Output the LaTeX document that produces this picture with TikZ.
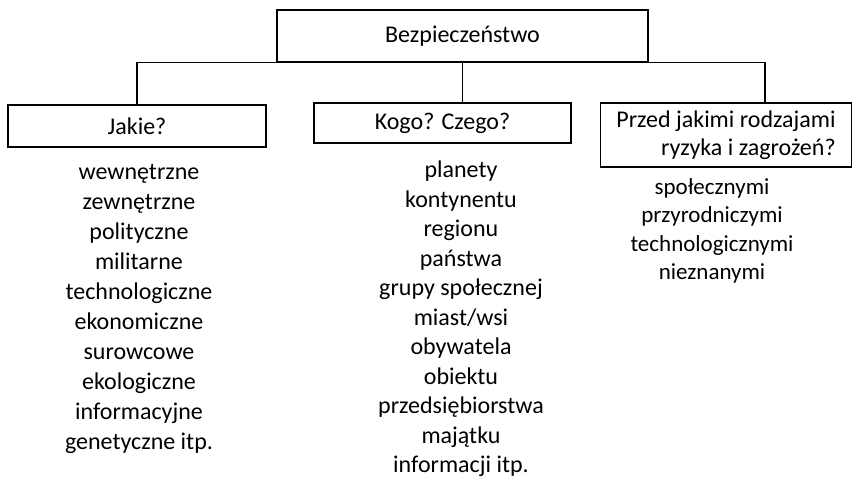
\documentclass[tikz,border=0pt]{standalone}
\usepackage{fontspec}
\setmainfont{Carlito}
\usepackage{tikz}

\begin{document}
\begin{tikzpicture}[x=1pt, y=-1pt,
    box/.style = {draw, line width=1.1pt, inner sep=0pt, font=\fontsize{24}{28}\selectfont},
    list/.style = {align=center, inner sep=0pt, anchor=north, font=\fontsize{24}{30}\selectfont}]
  \useasboundingbox (0,0) rectangle (852,482);
  % headings
  \node[box, minimum width=371pt, minimum height=52pt] (top) at (462.5,36) {Bezpieczeństwo};
  \node[box, minimum width=258pt, minimum height=42pt] (jakie) at (137,126) {Jakie?};
  \node[box, minimum width=257pt, minimum height=40pt] (kogo) at (442.5,123) {Kogo? Czego?};
  \node[box, minimum width=251pt, minimum height=64pt, align=right] (przed) at (726,135)
        {Przed jakimi rodzajami\\ryzyka i zagrożeń?};
  \coordinate (przedtop) at (765,103);
  % connectors
  \draw[line width=1.1pt] (top.south) -| (jakie.north);
  \draw[line width=1.1pt] (top.south) -- (top.south |- kogo.north);
  \draw[line width=1.1pt] (top.south) -| (przedtop);
  % lists
  \node[list] (jakielist) at (139,164) {wewnętrzne\\zewnętrzne\\polityczne\\militarne\\technologiczne\\ekonomiczne\\surowcowe\\ekologiczne\\informacyjne\\genetyczne itp.};
  \node[list, font=\fontsize{24}{29.5}\selectfont] (kogolist) at (461,161) {planety\\kontynentu\\regionu\\państwa\\grupy społecznej\\miast/wsi\\obywatela\\obiektu\\przedsiębiorstwa\\majątku\\informacji itp.};
  \node[list, font=\fontsize{23}{28.5}\selectfont] (przedlist) at (712,178) {społecznymi\\przyrodniczymi\\technologicznymi\\nieznanymi};
\end{tikzpicture}
\end{document}
